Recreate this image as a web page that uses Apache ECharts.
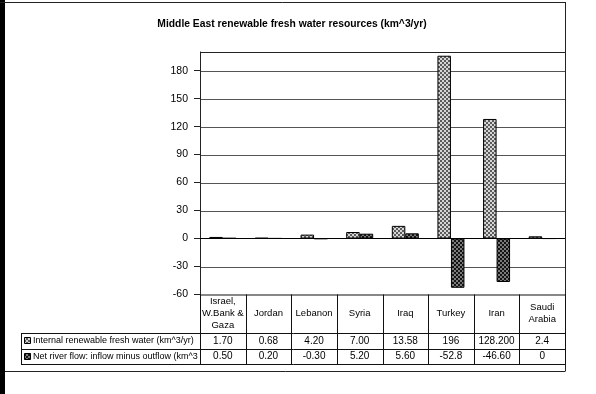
<!DOCTYPE html>
<html>
<head>
<meta charset="utf-8">
<script src="https://cdn.jsdelivr.net/npm/echarts@6/dist/echarts.min.js"></script>
<style>
  html, body { margin: 0; padding: 0; background: #fff; }
  #chart { width: 596px; height: 394px; }
</style>
</head>
<body>
<div id="chart"></div>
<script>
// Countries shown along the category axis
const categories = ['Israel,\nW.Bank &\nGaza', 'Jordan', 'Lebanon', 'Syria', 'Iraq', 'Turkey', 'Iran', 'Saudi\nArabia'];

// Internal renewable fresh water (km^3/yr)
const internalWater = [1.70, 0.68, 4.20, 7.00, 13.58, 196, 128.2, 2.4];
const internalText = ['1.70', '0.68', '4.20', '7.00', '13.58', '196', '128.200', '2.4'];

// Net river flow: inflow minus outflow (km^3/yr)
const netFlow = [0.50, 0.20, -0.30, 5.20, 5.60, -52.8, -46.60, 0];
const netText = ['0.50', '0.20', '-0.30', '5.20', '5.60', '-52.8', '-46.60', '0'];

const seriesNames = ['Internal renewable fresh water (km^3/yr)', 'Net river flow: inflow minus outflow (km^3/yr)'];

// Y axis range and gridline values
const yMin = -60, yMax = 200, yStep = 30;
const gridValues = [-30, 30, 60, 90, 120, 150, 180];

const FONT = 'Liberation Sans, Arial, sans-serif';

// Checkered fills for the bars (2px cells)
function checker(a, b) {
  const c = document.createElement('canvas');
  c.width = 4; c.height = 4;
  const ctx = c.getContext('2d');
  ctx.fillStyle = a; ctx.fillRect(0, 0, 4, 4);
  ctx.fillStyle = b; ctx.fillRect(0, 0, 2, 2); ctx.fillRect(2, 2, 2, 2);
  return c;
}
const lightFill = { image: checker('#d6d6d6', '#5c5c5c'), repeat: 'repeat' };
const darkFill = { image: checker('#141414', '#7a7a7a'), repeat: 'repeat' };

// Plot geometry
const G = { left: 200, right: 565, top: 52, bottom: 294.5 };
const nCat = categories.length;
const colW = (G.right - G.left) / nCat;
const tbl = { left: 21, row1: 333, row2: 349, bottom: 364, frameBottom: 371 };

const chart = echarts.init(document.getElementById('chart'), null, { renderer: 'canvas' });

// Table lines, plot border and outer frame
const graphics = [];
function line(x1, y1, x2, y2, w, color, z) {
  graphics.push({ type: 'line', silent: true, z: z == null ? 10 : z,
    shape: { x1, y1, x2, y2 }, style: { stroke: color || '#000', lineWidth: w || 1 } });
}
graphics.push({ type: 'rect', silent: true, z: 10, shape: { x: 0, y: 0, width: 5, height: 394 }, style: { fill: '#000' } });
line(0, 2.5, G.right + 0.5, 2.5, 1, '#222');
line(G.left, G.top + 0.5, G.right + 0.5, G.top + 0.5, 1, '#222');
line(G.right + 0.5, 2, G.right + 0.5, tbl.frameBottom, 1, '#222');
line(5, tbl.frameBottom + 0.5, G.right + 0.5, tbl.frameBottom + 0.5, 1, '#222');
for (let i = 0; i <= nCat; i++) {
  const x = Math.round(G.left + i * colW) + 0.5;
  line(x, G.bottom, x, tbl.bottom + 0.5, 1, '#111');
}
line(G.left, G.bottom + 0.5, G.right + 0.5, G.bottom + 0.5, 1, '#111');
line(tbl.left + 0.5, tbl.row1, tbl.left + 0.5, tbl.bottom + 0.5, 1, '#111');
[tbl.row1, tbl.row2, tbl.bottom].forEach(y => line(tbl.left, y + 0.5, G.right + 0.5, y + 0.5, 1, '#111'));

// Legend keys in the table's first column
[[lightFill, tbl.row1], [darkFill, tbl.row2]].forEach(([fill, y], i) => {
  graphics.push({ type: 'rect', silent: true, z: 11,
    shape: { x: 24.5, y: y + 4.5, width: 6, height: 6 },
    style: { fill: fill, stroke: '#000', lineWidth: 1 } });
  graphics.push({ type: 'text', silent: true, z: 11,
    x: 33, y: y + 8,
    style: { text: seriesNames[i], font: '9px ' + FONT, fill: '#000',
      verticalAlign: 'middle', width: G.left - 34, overflow: 'truncate', ellipsis: '' } });
});

// One axis per table row, each holding that row's labels
function tableAxis(data, margin, size) {
  return {
    type: 'category', data: data, gridIndex: 0, position: 'bottom',
    axisLine: { show: false, onZero: false }, axisTick: { show: false },
    axisLabel: { interval: 0, margin: margin, verticalAlign: 'middle', color: '#000',
      fontFamily: FONT, fontSize: size, lineHeight: 12 },
    splitLine: { show: false }
  };
}

chart.setOption({
  animation: false,
  backgroundColor: '#fff',
  title: {
    text: 'Middle East renewable fresh water resources (km^3/yr)',
    left: 287, top: 14, textAlign: 'center',
    textStyle: { fontFamily: FONT, fontSize: 10.3, fontWeight: 'bold', color: '#000' }
  },
  grid: {
    left: G.left, right: 596 - G.right, top: G.top, bottom: 394 - G.bottom,
    show: false
  },
  xAxis: [
    {
      type: 'category', data: categories,
      axisLine: { show: true, onZero: true, lineStyle: { color: '#000', width: 1 } },
      axisTick: { show: false }, axisLabel: { show: false }, splitLine: { show: false }
    },
    tableAxis(categories, 19, 9.5),
    tableAxis(internalText, 46.5, 10),
    tableAxis(netText, 62, 10)
  ],
  yAxis: {
    type: 'value', min: yMin, max: yMax, interval: yStep,
    axisLine: { show: true, lineStyle: { color: '#222' } },
    axisTick: { show: true, length: 6, lineStyle: { color: '#222' } },
    axisLabel: { showMaxLabel: false, margin: 12, color: '#000', fontFamily: FONT, fontSize: 10.5,
      formatter: v => (v === yMax ? '' : String(v)) },
    splitLine: { show: false }
  },
  series: [
    {
      name: seriesNames[0], type: 'bar', data: internalWater, z: 3,
      barWidth: 13.5, barGap: '0%',
      itemStyle: { color: lightFill, borderColor: '#000', borderWidth: 1 }
    },
    {
      name: seriesNames[1], type: 'bar', data: netFlow, z: 3,
      barWidth: 13.5, barGap: '0%',
      itemStyle: { color: darkFill, borderColor: '#000', borderWidth: 1 }
    }
  ]
});

// Horizontal gridlines placed through the value axis, behind the bars
gridValues.forEach(v => {
  const y = Math.round(chart.convertToPixel({ yAxisIndex: 0 }, v)) + 0.5;
  line(G.left, y, G.right, y, 1, '#555', 0);
});
chart.setOption({ graphic: graphics });
</script>
</body>
</html>
